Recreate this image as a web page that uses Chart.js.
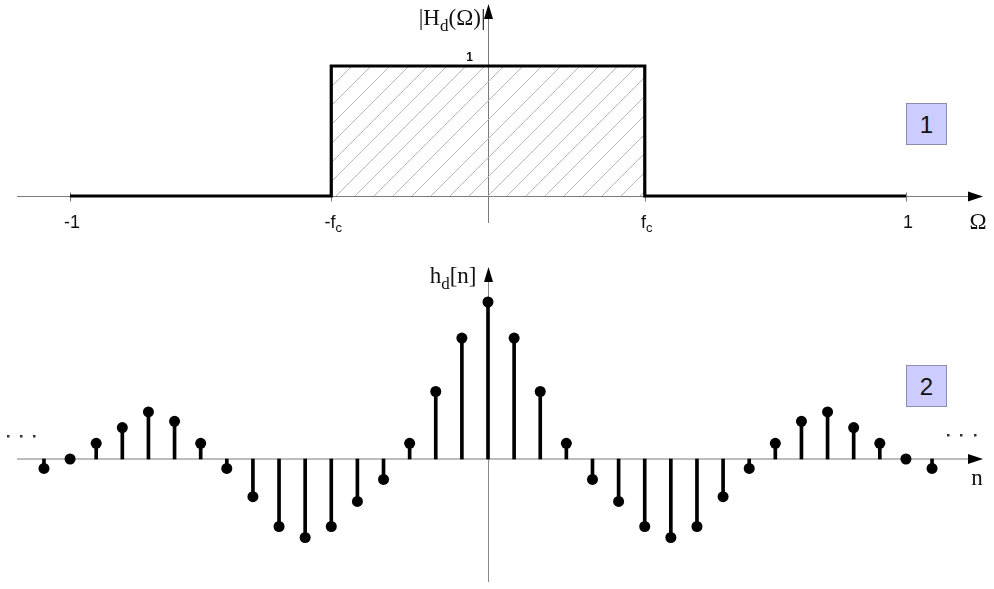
<!DOCTYPE html>
<html>
<head>
<meta charset="utf-8">
<title>Ideal lowpass filter</title>
<script src="https://cdn.jsdelivr.net/npm/chart.js@4.4.0/dist/chart.umd.min.js"></script>
<style>
html, body { margin: 0; padding: 0; background: #fff; }
#wrap { position: relative; width: 994px; height: 589px; overflow: hidden; }
canvas { position: absolute; left: 0; }
#topChart { top: 0; }
#stemChart { top: 240px; }
.tag {
    position: absolute; left: 906px; width: 39px; height: 40px;
    background: #ccccff; border: 1px solid #8c8cb0;
    font: 24px 'Liberation Sans', Arial, sans-serif;
    text-align: center; line-height: 41px; color: #111;
}
</style>
</head>
<body>
<div id="wrap">
    <canvas id="topChart" width="994" height="240"></canvas>
    <canvas id="stemChart" width="994" height="349"></canvas>
    <div class="tag" style="top:103px">1</div>
    <div class="tag" style="top:365px">2</div>
</div>
<script>
// ===== DATA =====
// |Hd(Omega)| : ideal lowpass, cutoff fc
var fc = 0.375;
var omegaPoints = [-1, -fc, -fc, fc, fc, 1];
var magnitude   = [0, 0, 1, 1, 0, 0];
var omegaTicks  = [-1, -fc, fc, 1];
var omegaTickLabels = [['-1', ''], ['-f', 'c'], ['f', 'c'], ['1', '']];

// hd[n] : impulse response samples
var nIndex = [-17, -16, -15, -14, -13, -12, -11, -10, -9, -8, -7, -6, -5, -4, -3, -2, -1,
              0, 1, 2, 3, 4, 5, 6, 7, 8, 9, 10, 11, 12, 13, 14, 15, 16, 17];
var hValues = [-0.06, 0, 0.10, 0.20, 0.30, 0.24, 0.10, -0.06, -0.24, -0.43, -0.50, -0.43, -0.27, -0.13, 0.10, 0.43, 0.77,
               1.00, 0.77, 0.43, 0.10, -0.13, -0.27, -0.43, -0.50, -0.43, -0.24, -0.06, 0.10, 0.24, 0.30, 0.20, 0.10, 0, -0.06];

var SANS = "'Liberation Sans', Arial, sans-serif";
var SERIF = "'Liberation Serif', 'Times New Roman', serif";

// ===== HELPERS =====
function arrow(ctx, tipX, tipY, dir) {
    // dir: 'right' or 'up'
    ctx.beginPath();
    if (dir === 'right') {
        ctx.moveTo(tipX, tipY);
        ctx.lineTo(tipX - 15, tipY - 5);
        ctx.lineTo(tipX - 15, tipY + 5);
    } else {
        ctx.moveTo(tipX, tipY);
        ctx.lineTo(tipX - 4.5, tipY + 15);
        ctx.lineTo(tipX + 4.5, tipY + 15);
    }
    ctx.closePath();
    ctx.fill();
}

// text with a subscript part, anchored by its centre (align 'center') or right end
function subText(ctx, parts, x, y, size, family, align) {
    // parts: [[text, isSub], ...]
    var subSize = Math.round(size * 0.72);
    var total = 0;
    parts.forEach(function(p) {
        ctx.font = (p[1] ? subSize : size) + 'px ' + family;
        total += ctx.measureText(p[0]).width;
    });
    var cx = align === 'right' ? x - total : x - total / 2;
    ctx.textAlign = 'left';
    ctx.textBaseline = 'alphabetic';
    parts.forEach(function(p) {
        ctx.font = (p[1] ? subSize : size) + 'px ' + family;
        ctx.fillText(p[0], cx, p[1] ? y + size * 0.25 : y);
        cx += ctx.measureText(p[0]).width;
    });
}

function hatchPattern() {
    var c = document.createElement('canvas');
    c.width = 19; c.height = 19;
    var g = c.getContext('2d');
    g.strokeStyle = '#b9b9b9';
    g.lineWidth = 1;
    g.beginPath();
    g.moveTo(-2, 21); g.lineTo(21, -2);
    g.stroke();
    return g.createPattern(c, 'repeat');
}

// ===== TOP CHART: |Hd(Omega)| =====
var topAxes = {
    id: 'topAxes',
    beforeDatasetsDraw: function(chart) {
        var ctx = chart.ctx, xs = chart.scales.x, ys = chart.scales.y;
        var y0 = Math.round(ys.getPixelForValue(0)) + 0.5;
        var x0 = Math.round(xs.getPixelForValue(0)) + 0.5;
        ctx.save();
        ctx.strokeStyle = '#7a7a7a';
        ctx.lineWidth = 1;
        ctx.beginPath();
        ctx.moveTo(17, y0); ctx.lineTo(970, y0);
        ctx.moveTo(x0, 14); ctx.lineTo(x0, 223);
        omegaTicks.forEach(function(v) {
            var px = Math.round(xs.getPixelForValue(v)) + 0.5;
            ctx.moveTo(px, y0 - 4); ctx.lineTo(px, y0 + 5);
        });
        ctx.stroke();
        ctx.restore();
    },
    afterDraw: function(chart) {
        var ctx = chart.ctx, xs = chart.scales.x, ys = chart.scales.y;
        var y0 = Math.round(ys.getPixelForValue(0)) + 0.5;
        var x0 = Math.round(xs.getPixelForValue(0)) + 0.5;
        ctx.save();
        ctx.fillStyle = '#000';
        arrow(ctx, 983, y0, 'right');
        arrow(ctx, x0, 4, 'up');
        ctx.fillStyle = '#111';
        // tick labels
        omegaTicks.forEach(function(v, i) {
            var lab = omegaTickLabels[i];
            subText(ctx, [[lab[0], false], [lab[1], true]], xs.getPixelForValue(v) + 2, y0 + 31, 18, SANS, 'center');
        });
        // value 1 on the axis
        ctx.font = 'bold 12px ' + SANS;
        ctx.textAlign = 'center';
        ctx.textBaseline = 'alphabetic';
        ctx.fillText('1', x0 - 19, ys.getPixelForValue(1) - 5);
        // axis names
        subText(ctx, [['|H', false], ['d', true], ['(\u03A9)|', false]], x0 - 3, 25, 23, SERIF, 'right');
        ctx.font = '23px ' + SERIF;
        ctx.textAlign = 'center';
        ctx.fillText('\u03A9', 978, y0 + 32);
        ctx.restore();
    }
};

new Chart(document.getElementById('topChart'), {
    type: 'line',
    data: {
        datasets: [{
            data: omegaPoints.map(function(w, i) { return { x: w, y: magnitude[i] }; }),
            borderColor: '#000',
            borderWidth: 3.2,
            backgroundColor: hatchPattern(),
            fill: 'origin',
            pointRadius: 0,
            tension: 0,
            borderJoinStyle: 'miter'
        }]
    },
    options: {
        responsive: false,
        animation: false,
        devicePixelRatio: 1,
        events: [],
        layout: { padding: 0, autoPadding: false },
        plugins: { legend: { display: false }, tooltip: { enabled: false } },
        scales: {
            x: { type: 'linear', min: -1.1675, max: 1.2105, display: false },
            y: { type: 'linear', min: -0.3385, max: 1.5077, display: false }
        }
    },
    plugins: [topAxes]
});

// ===== BOTTOM CHART: hd[n] =====
var stemAxes = {
    id: 'stemAxes',
    beforeDatasetsDraw: function(chart) {
        var ctx = chart.ctx, xs = chart.scales.x, ys = chart.scales.y;
        var y0 = Math.round(ys.getPixelForValue(0));
        var x0 = Math.round(xs.getPixelForValue(0)) + 0.5;
        ctx.save();
        ctx.strokeStyle = '#bdbdbd';
        ctx.lineWidth = 2;
        ctx.beginPath();
        ctx.moveTo(17, y0); ctx.lineTo(970, y0);
        ctx.stroke();
        ctx.strokeStyle = '#8a8a8a';
        ctx.lineWidth = 1;
        ctx.beginPath();
        ctx.moveTo(x0, 40); ctx.lineTo(x0, 342);
        ctx.stroke();
        ctx.restore();
    },
    afterDraw: function(chart) {
        var ctx = chart.ctx, xs = chart.scales.x, ys = chart.scales.y;
        var y0 = Math.round(ys.getPixelForValue(0));
        var x0 = Math.round(xs.getPixelForValue(0)) + 0.5;
        ctx.save();
        ctx.fillStyle = '#000';
        arrow(ctx, 983, y0, 'right');
        arrow(ctx, x0, 27, 'up');
        // continuation dots
        ctx.fillStyle = '#333';
        [8, 21, 34].forEach(function(x) { ctx.fillRect(x - 1, y0 - 24, 2.5, 2.5); });
        [948, 961, 975].forEach(function(x) { ctx.fillRect(x - 1, y0 - 25, 2.5, 2.5); });
        ctx.fillStyle = '#111';
        subText(ctx, [['h', false], ['d', true], ['[n]', false]], x0 - 12, 43, 23, SERIF, 'right');
        ctx.font = '23px ' + SERIF;
        ctx.textAlign = 'center';
        ctx.textBaseline = 'alphabetic';
        ctx.fillText('n', 977, y0 + 26);
        ctx.restore();
    }
};

var stemPoints = nIndex.map(function(n, i) { return { x: n, y: hValues[i] }; });

new Chart(document.getElementById('stemChart'), {
    type: 'bar',
    data: {
        datasets: [{
            type: 'line',
            data: stemPoints,
            showLine: false,
            pointRadius: 5.5,
            pointBackgroundColor: '#000',
            pointBorderWidth: 0,
            order: 0
        }, {
            type: 'bar',
            data: stemPoints,
            backgroundColor: '#000',
            barThickness: 3,
            borderWidth: 0,
            order: 1
        }]
    },
    options: {
        responsive: false,
        animation: false,
        devicePixelRatio: 1,
        events: [],
        layout: { padding: 0, autoPadding: false },
        plugins: { legend: { display: false }, tooltip: { enabled: false } },
        scales: {
            x: { type: 'linear', min: -18.683, max: 19.372, offset: false, display: false },
            y: { type: 'linear', min: -0.828, max: 1.3949, display: false }
        }
    },
    plugins: [stemAxes]
});
</script>
</body>
</html>
